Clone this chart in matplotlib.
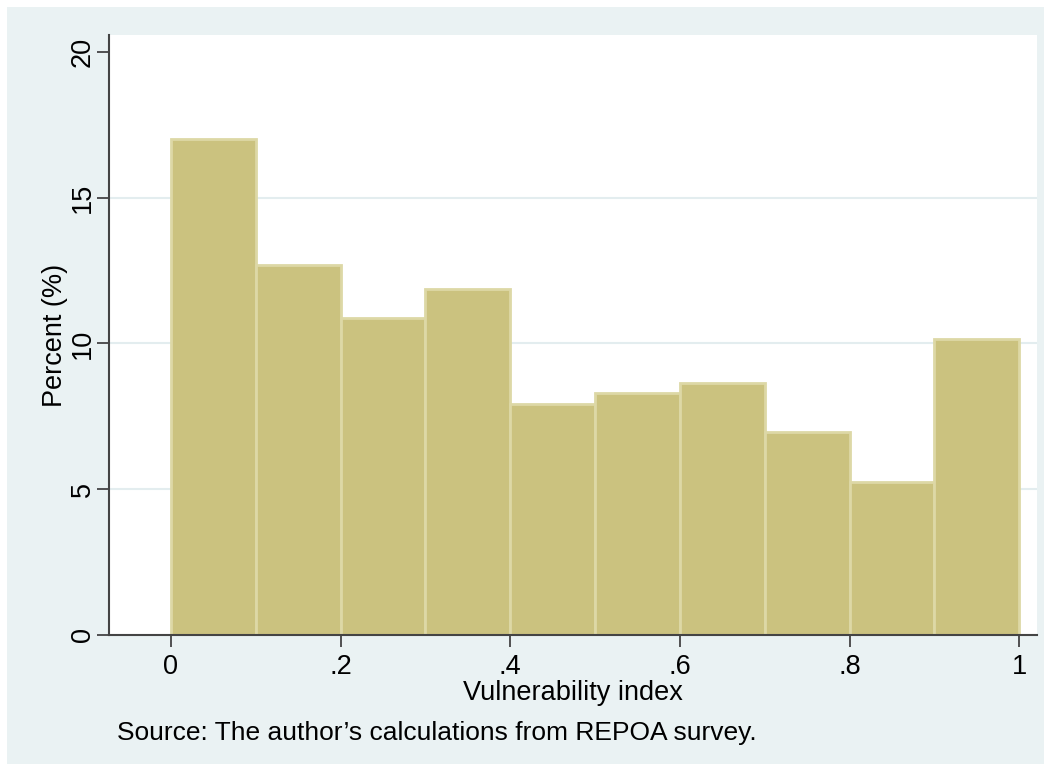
import numpy as np
import matplotlib.pyplot as plt
import matplotlib.patches as patches

plt.rcParams['font.family'] = ['Liberation Sans', 'DejaVu Sans']

# histogram data (bin edges and percent per bin)
bin_edges = [0, .1, .2, .3, .4, .5, .6, .7, .8, .9, 1.0]
percent = [17.0, 12.69, 10.87, 11.87, 7.92, 8.30, 8.64, 6.96, 5.25, 10.15]
x_ticks = [0, .2, .4, .6, .8, 1]
x_tick_labels = ['0', '.2', '.4', '.6', '.8', '1']
y_ticks = [0, 5, 10, 15, 20]

bg = '#EAF2F3'
bar_face = '#CBC27F'
bar_edge = '#DDD8A6'
axis_col = '#444444'

fig = plt.figure(figsize=(10.51, 7.71), dpi=100)
fig.patch.set_facecolor('white')
fig.add_artist(patches.Rectangle((7/1051, 7/771), 1037/1051, 757/771,
                                 transform=fig.transFigure, facecolor=bg,
                                 edgecolor='none', zorder=0))

ax = fig.add_axes([109/1051, 136/771, 928/1051, 600/771])
ax.set_facecolor('white')

for y in [5, 10, 15]:
    ax.axhline(y, color='#E3EDEF', linewidth=1.5, zorder=1)

widths = np.diff(bin_edges)
ax.bar(bin_edges[:-1], percent, width=widths, align='edge',
       color=bar_face, edgecolor=bar_edge, linewidth=2, zorder=2)

ax.set_xlim(-0.073, 1.021)
ax.set_ylim(0, 20.58)

for s in ['top', 'right']:
    ax.spines[s].set_visible(False)
for s in ['left', 'bottom']:
    ax.spines[s].set_color(axis_col)
    ax.spines[s].set_linewidth(1.5)
    ax.spines[s].set_zorder(3)

ax.set_xticks(x_ticks)
ax.set_xticklabels(x_tick_labels)
ax.set_yticks(y_ticks)
ax.set_yticklabels([str(v) for v in y_ticks], rotation=90, va='center')
ax.tick_params(axis='both', length=8.5, width=1.3, color=axis_col,
               labelsize=19.5)
ax.tick_params(axis='x', pad=5)
ax.tick_params(axis='y', pad=1)

ax.set_xlabel('Vulnerability index', fontsize=19.5, labelpad=0)
ax.set_ylabel('Percent (%)', fontsize=19.5, labelpad=1)

fig.text(117/1051, 1 - 733/771, 'Source: The author\u2019s calculations from REPOA survey.',
         fontsize=19, ha='left', va='center')

fig.savefig('out.png', dpi=100, facecolor=fig.get_facecolor())
